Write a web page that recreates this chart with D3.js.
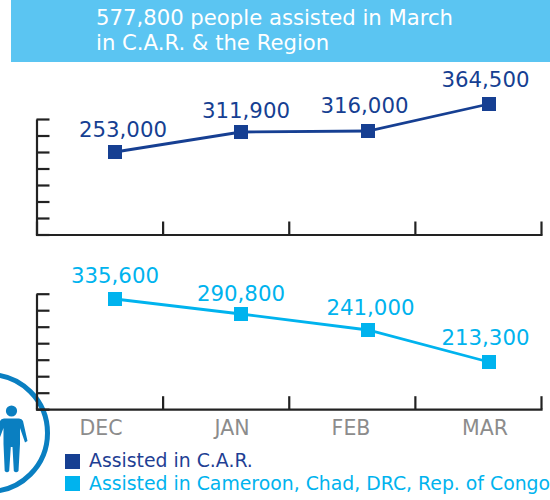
<!DOCTYPE html>
<html><head><meta charset="utf-8">
<script src="https://cdn.jsdelivr.net/npm/d3@7"></script>
<style>html,body{margin:0;padding:0;background:#fff}svg{display:block}text{font-family:"DejaVu Sans",Verdana,sans-serif}</style>
</head><body><div id="c"></div>
<script>
const months = ["DEC","JAN","FEB","MAR"];
const carValues = [253000,311900,316000,364500];
const regionValues = [335600,290800,241000,213300];
const titleLines = ["577,800 people assisted in March","in C.A.R. & the Region"];
const legendLabels = ["Assisted in C.A.R.","Assisted in Cameroon, Chad, DRC, Rep. of Congo"];
const gridSteps = [0,1,2,3,4,5,6,7];
const bandSteps = [0,1,2,3,4];

const W=550,H=500,DARK="#163f92",CYAN="#00b3ee",AXIS="#222222";
const svg=d3.select("#c").append("svg").attr("width",W).attr("height",H);

svg.append("rect").attr("x",11).attr("y",0).attr("width",W-11).attr("height",62).attr("fill","#5bc5f2");
svg.selectAll("text.title").data(titleLines).join("text").attr("class","title")
  .attr("x",96).attr("y",(d,i)=>25+i*25).attr("fill","#fff").attr("font-size",21.2).text(d=>d);

// person icon
const icon=svg.append("g");
icon.append("circle").attr("cx",-11).attr("cy",433).attr("r",58.5).attr("fill","none").attr("stroke","#0a7fc1").attr("stroke-width",5);
icon.append("circle").attr("cx",11.5).attr("cy",411).attr("r",5.6).attr("fill","#0a7fc1");
icon.append("path").attr("fill","#0a7fc1")
 .attr("d","M4,418.5 H19 Q22,418.5 23,421 L27.5,441 L25,442.5 L20,428 V444 L18.5,471 Q16,473.5 13.8,471 L12.5,447 H10.8 L9.2,471 Q7,473.5 4.7,471 L3.5,444 V428 L-2,442.5 L-5,441 L0,421 Q1,418.5 4,418.5 Z");

const x=d3.scaleOrdinal().domain(months).range([115,241,368,489]);
const xLabel=d3.scaleOrdinal().domain(months).range([101,232,351,485]);
const xAxisScale=d3.scaleLinear().domain([0,4]).range([36.5,541]);

function panel(values,color,top,yRange,labelPos){
  const bottom=top+115.5;
  const y=d3.scaleLinear().domain(values).range(yRange);
  const yAxisScale=d3.scaleLinear().domain([0,7]).range([bottom,top]);
  const gy=svg.append("g").attr("transform","translate(36.5,0)")
    .call(d3.axisLeft(yAxisScale).tickValues(gridSteps).tickSize(-13).tickSizeOuter(0).tickFormat(""));
  const gx=svg.append("g").attr("transform",`translate(0,${bottom})`)
    .call(d3.axisBottom(xAxisScale).tickValues(bandSteps).tickSize(-13).tickSizeOuter(0).tickFormat(""));
  [gy,gx].forEach(g=>{g.selectAll("path,line").attr("stroke",AXIS).attr("stroke-width",2.2);});
  gx.select("path").attr("stroke-linecap","square");
  const line=d3.line().x((d,i)=>x(months[i])).y(d=>y(d));
  svg.append("path").datum(values).attr("d",line).attr("fill","none").attr("stroke",color).attr("stroke-width",2.8);
  svg.selectAll(null).data(values).join("rect")
    .attr("x",(d,i)=>x(months[i])-7).attr("y",d=>y(d)-7).attr("width",14).attr("height",14).attr("fill",color);
  svg.selectAll(null).data(values).join("text")
    .attr("x",(d,i)=>labelPos[i][0]).attr("y",(d,i)=>labelPos[i][1])
    .attr("text-anchor","middle").attr("font-size",21.3).attr("fill",color).text(d=>d3.format(",")(d));
}
panel(carValues,DARK,119,[152,132,131,104],[[123,137],[246,118],[364.5,113],[485.5,87]]);
panel(regionValues,CYAN,293.7,[299,314,330,362],[[115,283],[241,301],[370.5,315],[485.5,345]]);

svg.selectAll("text.month").data(months).join("text").attr("class","month")
  .attr("x",d=>xLabel(d)).attr("y",435).attr("text-anchor","middle").attr("font-size",20.5).attr("fill","#8c8c8c").text(d=>d);

const legendColors=[DARK,CYAN];
legendLabels.forEach((t,i)=>{
  svg.append("rect").attr("x",65).attr("y",454+i*22).attr("width",15).attr("height",15).attr("fill",legendColors[i]);
  svg.append("text").attr("x",89).attr("y",467+i*23).attr("font-size",18.85).attr("fill",i?CYAN:"#1f3f94").text(t);
});
</script></body></html>
